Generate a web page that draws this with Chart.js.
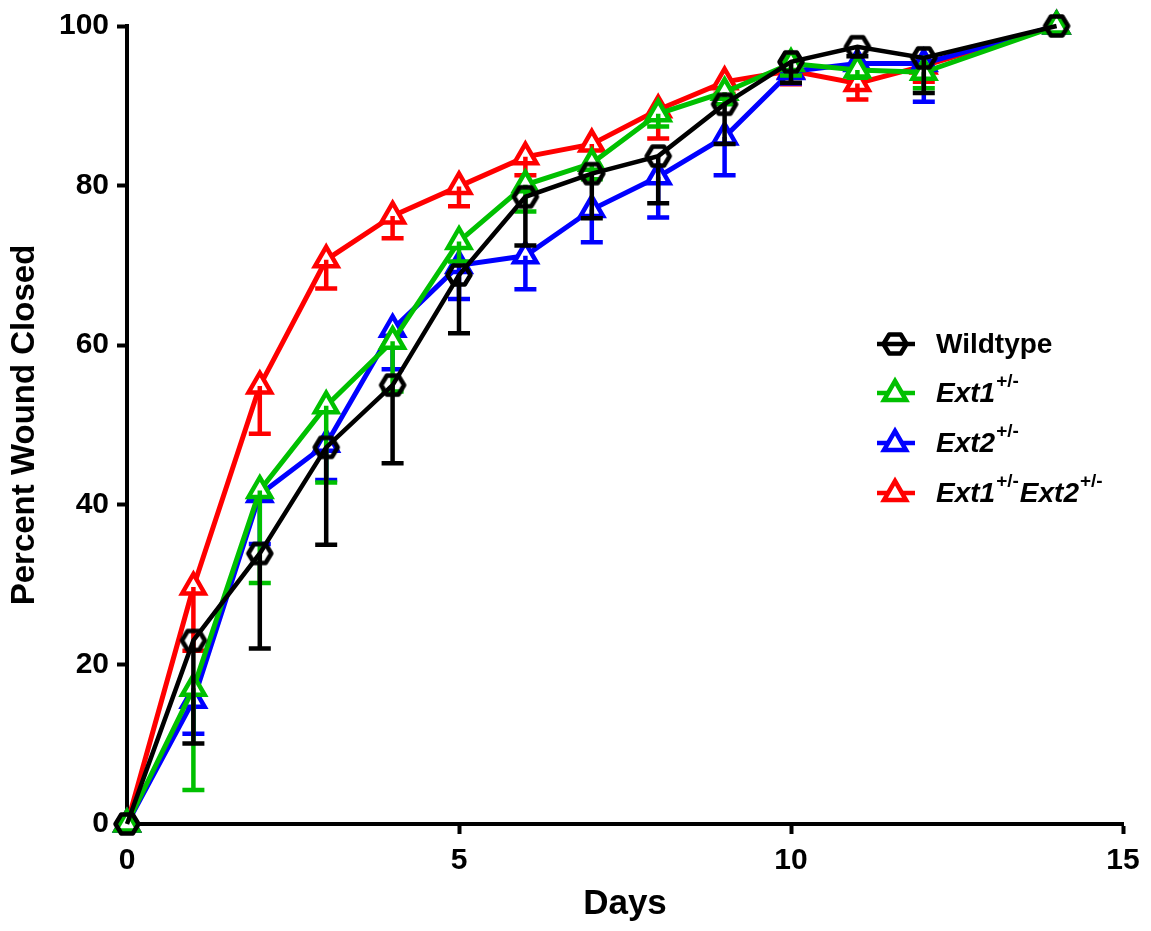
<!DOCTYPE html>
<html>
<head>
<meta charset="utf-8">
<script src="https://cdn.jsdelivr.net/npm/chart.js@4.4.0/dist/chart.umd.min.js"></script>
<style>
  html, body { margin: 0; padding: 0; background: #fff; }
  #wrap { width: 1151px; height: 931px; position: relative; }
</style>
</head>
<body>
<div id="wrap"><canvas id="chart"></canvas></div>
<script>
// days of measurement
const days = [0, 1, 2, 3, 4, 5, 6, 7, 8, 9, 10, 11, 12, 14];

// mean percent wound closed
const wildtype = [0, 23, 33.9, 47.2, 55, 68.8, 78.6, 81.5, 83.7, 90.2, 95.5, 97.4, 96, 100];
const ext1 = [0, 17, 41.8, 52.4, 60.5, 73, 80.1, 82.8, 89, 91.7, 95.3, 94.5, 94.2, 100];
const ext2 = [0, 15.5, 41.3, 47.6, 62, 70, 71.2, 77, 81.1, 86.1, 94.3, 95.3, 95.3, 100];
const ext1ext2 = [0, 29.7, 54.9, 70.7, 76.2, 79.9, 83.6, 85.2, 89.5, 93, 94.4, 92.8, 95, 100];

// error bars (drawn below the mean only)
const wildtypeErr = [0, 12.9, 11.9, 12.2, 9.8, 7.3, 6.1, 5.6, 5.9, 5.0, 2.6, 1.2, 4.4, 0];
const ext1Err = [0, 12.75, 11.6, 9.6, 6.3, 2.5, 3.35, 2, 1.6, 1.5, 1.5, 1, 2, 0];
const ext2Err = [0, 4.2, 6.2, 4.5, 5, 4.2, 4.2, 4.1, 5.1, 4.8, 1.5, 1.3, 4.8, 0];
const ext1ext2Err = [0, 8, 6, 3.6, 2.8, 2.5, 2.3, 3, 3.6, 1.5, 1.7, 2, 2, 0];

const yTicks = [0, 20, 40, 60, 80, 100];
const xTicks = [0, 5, 10, 15];

const GREEN = '#00c000';
const BLUE = '#0000ff';
const RED = '#ff0000';
const BLACK = '#000000';
const FONT = '"Liberation Sans", Arial, sans-serif';

function makeHex(color) {
    const c = document.createElement('canvas');
    c.width = 32;
    c.height = 28;
    const ctx = c.getContext('2d');
    const cx = 16, cy = 14, rx = 11.5, ry = 9.5;
    ctx.strokeStyle = color;
    ctx.lineWidth = 4.5;
    ctx.lineJoin = 'round';
    ctx.beginPath();
    ctx.moveTo(cx - rx, cy);
    ctx.lineTo(cx - rx / 2, cy - ry);
    ctx.lineTo(cx + rx / 2, cy - ry);
    ctx.lineTo(cx + rx, cy);
    ctx.lineTo(cx + rx / 2, cy + ry);
    ctx.lineTo(cx - rx / 2, cy + ry);
    ctx.closePath();
    ctx.stroke();
    return c;
}
const hexImg = makeHex(BLACK);

function toPoints(vals) {
    return vals.map((v, i) => ({ x: days[i], y: v }));
}

function series(label, vals, errs, color, isHex) {
    return {
        label: label,
        data: toPoints(vals),
        errors: errs,
        borderColor: color,
        backgroundColor: '#ffffff',
        borderWidth: isHex ? 4.5 : 5,
        pointStyle: isHex ? hexImg : 'triangle',
        pointRadius: 13,
        pointBorderWidth: 4.5,
        pointBorderColor: color,
        pointBackgroundColor: '#ffffff',
        tension: 0,
        clip: false
    };
}

// one-sided error bars, drawn right after each dataset
const errorBars = {
    id: 'errorBars',
    afterDatasetDraw(chart, args) {
        const ds = chart.data.datasets[args.index];
        const yScale = chart.scales.y;
        const ctx = chart.ctx;
        ctx.save();
        ctx.strokeStyle = ds.borderColor;
        ctx.lineWidth = 4.5;
        args.meta.data.forEach((pt, i) => {
            const e = ds.errors[i];
            if (!e) return;
            const yEnd = yScale.getPixelForValue(ds.data[i].y - e);
            ctx.beginPath();
            ctx.moveTo(pt.x, pt.y);
            ctx.lineTo(pt.x, yEnd);
            ctx.moveTo(pt.x - 11, yEnd);
            ctx.lineTo(pt.x + 11, yEnd);
            ctx.stroke();
        });
        ctx.restore();
    }
};

// legend with superscripts
const legendBox = {
    id: 'legendBox',
    afterDraw(chart) {
        const ctx = chart.ctx;
        const mx = 895, tx = 936;
        const rows = [
            { y: 344, color: BLACK, hex: true, parts: [['Wildtype', false, false]] },
            { y: 393, color: GREEN, parts: [['Ext1', true, false], ['+/-', true, true]] },
            { y: 443, color: BLUE, parts: [['Ext2', true, false], ['+/-', true, true]] },
            { y: 493, color: RED, parts: [['Ext1', true, false], ['+/-', true, true], ['Ext2', true, false], ['+/-', true, true]] }
        ];
        ctx.save();
        rows.forEach(r => {
            ctx.strokeStyle = r.color;
            ctx.lineWidth = 4.5;
            ctx.beginPath();
            ctx.moveTo(mx - 18, r.y);
            ctx.lineTo(mx + 20, r.y);
            ctx.stroke();
            if (r.hex) {
                ctx.drawImage(hexImg, mx - 16, r.y - 14);
            } else {
                ctx.fillStyle = '#ffffff';
                ctx.beginPath();
                ctx.moveTo(mx, r.y - 12);
                ctx.lineTo(mx + 11, r.y + 7);
                ctx.lineTo(mx - 11, r.y + 7);
                ctx.closePath();
                ctx.fill();
                ctx.stroke();
            }
            let x = tx;
            ctx.fillStyle = BLACK;
            ctx.textBaseline = 'middle';
            r.parts.forEach(p => {
                const [txt, italic, sup] = p;
                ctx.font = (italic && !sup ? 'italic ' : '') + 'bold ' + (sup ? 19 : 28) + 'px ' + FONT;
                ctx.fillText(txt, x, sup ? r.y - 11 : r.y + 1);
                x += ctx.measureText(txt).width + 1;
            });
        });
        ctx.restore();
    }
};

const ctx = document.getElementById('chart').getContext('2d');
new Chart(ctx, {
    type: 'line',
    data: {
        datasets: [
            series('Wildtype', wildtype, wildtypeErr, BLACK, true),
            series('Ext1+/-', ext1, ext1Err, GREEN, false),
            series('Ext2+/-', ext2, ext2Err, BLUE, false),
            series('Ext1+/-Ext2+/-', ext1ext2, ext1ext2Err, RED, false)
        ]
    },
    options: {
        responsive: true,
        maintainAspectRatio: false,
        animation: false,
        layout: { padding: { left: 0, top: 24, right: 28, bottom: 0 } },
        plugins: {
            legend: { display: false },
            tooltip: { enabled: false }
        },
        scales: {
            x: {
                type: 'linear',
                min: 0,
                max: 15,
                afterFit(scale) { scale.height = 107; },
                afterBuildTicks(scale) { scale.ticks = xTicks.map(v => ({ value: v })); },
                grid: { drawOnChartArea: false, drawTicks: true, tickLength: 10, tickWidth: 4, tickColor: BLACK },
                border: { display: true, width: 4, color: BLACK },
                ticks: { color: BLACK, padding: 9, font: { family: FONT, size: 30, weight: 'bold' }, maxRotation: 0 },
                title: { display: true, text: 'Days', color: BLACK, padding: { top: 6, bottom: 6 }, font: { family: FONT, size: 35, weight: 'bold' } }
            },
            y: {
                min: 0,
                max: 100,
                afterFit(scale) { scale.width = 127; },
                afterBuildTicks(scale) { scale.ticks = yTicks.map(v => ({ value: v })); },
                grid: { drawOnChartArea: false, drawTicks: true, tickLength: 10, tickWidth: 4, tickColor: BLACK },
                border: { display: true, width: 4, color: BLACK },
                ticks: { color: BLACK, padding: 8, font: { family: FONT, size: 30, weight: 'bold' } },
                title: { display: true, text: 'Percent Wound Closed', color: BLACK, padding: { top: 5, bottom: 5 }, font: { family: FONT, size: 33, weight: 'bold' } }
            }
        }
    },
    plugins: [errorBars, legendBox]
});
</script>
</body>
</html>
